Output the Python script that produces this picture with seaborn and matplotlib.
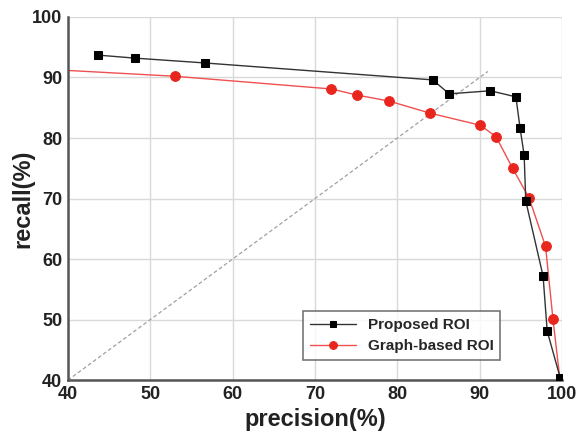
import matplotlib
matplotlib.use("Agg")
import matplotlib.pyplot as plt
import seaborn as sns
import pandas as pd

proposed_precision = [43.6, 48.1, 56.6, 84.3, 86.3, 91.3, 94.4, 94.9, 95.4, 95.6, 97.7, 98.2, 99.8]
proposed_recall = [93.7, 93.2, 92.4, 89.6, 87.3, 87.8, 86.8, 81.7, 77.2, 69.6, 57.2, 48.1, 40.3]

graph_precision = [30.0, 53.0, 72.0, 75.1, 79.0, 84.0, 90.1, 92.0, 94.0, 96.0, 98.0, 98.9, 99.8]
graph_recall = [91.9, 90.2, 88.1, 87.1, 86.1, 84.1, 82.1, 80.2, 75.0, 70.1, 62.1, 50.1, 39.5]

diag = [40, 91]
xticks = [40, 50, 60, 70, 80, 90, 100]
yticks = [40, 50, 60, 70, 80, 90, 100]

sns.set_style("white")
plt.rcParams['font.family'] = ['Liberation Sans', 'DejaVu Sans']

fig = plt.figure(figsize=(5.8, 4.34), dpi=100)
ax = fig.add_axes([0.117, 0.124, 0.852, 0.837])

df_p = pd.DataFrame({"precision": proposed_precision, "recall": proposed_recall})
df_g = pd.DataFrame({"precision": graph_precision, "recall": graph_recall})

for v in xticks:
    ax.axvline(v, color="#d9d9d9", lw=1.0, zorder=0)
for v in yticks:
    ax.axhline(v, color="#d9d9d9", lw=1.0, zorder=0)

ax.plot(diag, diag, linestyle=(0, (3, 2)), color="#a0a0a0", lw=0.9, zorder=1)

sns.lineplot(data=df_p, x="precision", y="recall", sort=False, ax=ax, color="#333333",
             lw=1.0, marker="s", markersize=6, markerfacecolor="black", markeredgecolor="black",
             label="Proposed ROI", zorder=3)
sns.lineplot(data=df_g, x="precision", y="recall", sort=False, ax=ax, color="#f05050",
             lw=1.0, marker="o", markersize=7, markerfacecolor="#e8261e", markeredgecolor="#e8261e",
             label="Graph-based ROI", zorder=2)

ax.set_xlim(40, 100)
ax.set_ylim(40, 100)
ax.set_xticks(xticks)
ax.set_yticks(yticks)
for lab in ax.get_xticklabels() + ax.get_yticklabels():
    lab.set_fontweight("bold")
    lab.set_fontsize(13)
    lab.set_color("#222222")
ax.tick_params(axis="both", length=0, pad=4)

ax.set_xlabel("precision(%)", fontsize=17, fontweight="bold", color="#222222", labelpad=4)
ax.set_ylabel("recall(%)", fontsize=17, fontweight="bold", color="#222222", labelpad=-2)

for s in ["top", "right"]:
    ax.spines[s].set_visible(False)
for s in ["left", "bottom"]:
    ax.spines[s].set_color("#555555")
    ax.spines[s].set_linewidth(1.8)

leg = ax.legend(loc="lower left", bbox_to_anchor=(0.46, 0.035), frameon=True, fancybox=False,
                prop={"weight": "bold", "size": 11}, handlelength=3.0, borderpad=0.45,
                labelspacing=0.45, markerscale=0.8)
leg.get_frame().set_edgecolor("#555555")
leg.get_frame().set_linewidth(1.2)

fig.savefig("out.png", dpi=100)
